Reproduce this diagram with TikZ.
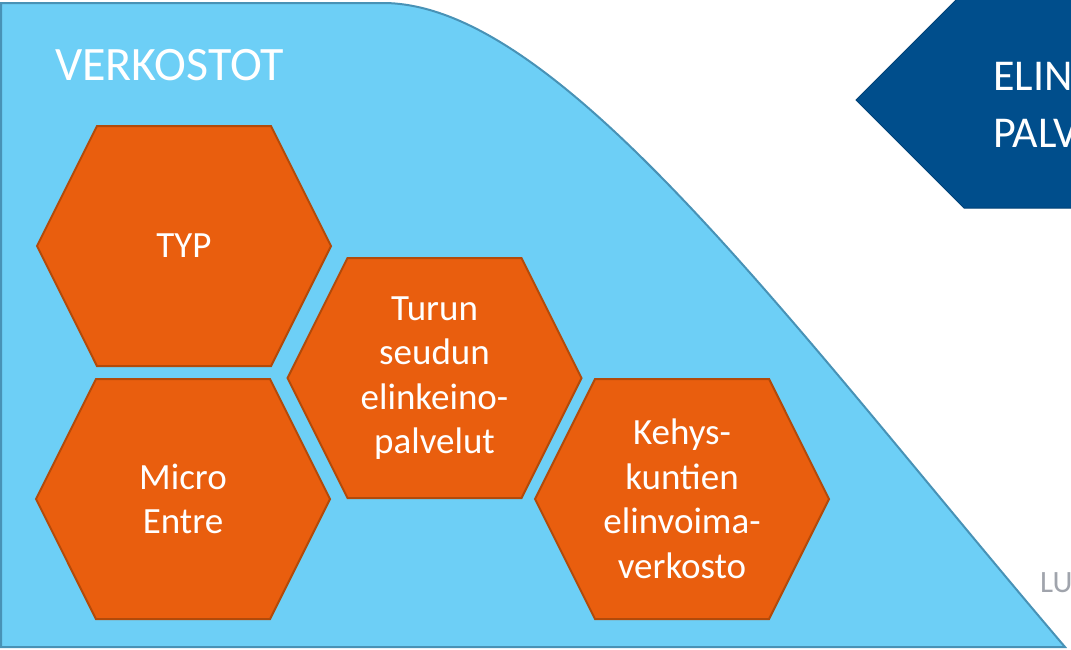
\documentclass[tikz,border=0pt]{standalone}
\usepackage{fontspec}
\setmainfont{Carlito}
\usetikzlibrary{shapes.symbols}
\definecolor{verkkoblue}{RGB}{109,207,246}
\definecolor{verkkoline}{RGB}{72,146,182}
\definecolor{hexorange}{RGB}{233,94,14}
\definecolor{hexline}{RGB}{178,74,10}
\definecolor{elinblue}{RGB}{0,78,140}
\definecolor{lugray}{RGB}{160,164,172}
\begin{document}
\begin{tikzpicture}[x=1pt,y=-1pt,
  hexa/.style={signal,signal to=east and west,signal pointer angle=126.87,fill=hexorange,draw=hexline,line width=2pt,minimum width=294pt,minimum height=240pt,inner sep=0pt,text=white,align=center,font=\fontsize{37}{44.5}\selectfont}]
\useasboundingbox (0,0) rectangle (1071,649);
\clip (0,0) rectangle (1071,649);
\filldraw[fill=verkkoblue,draw=verkkoline,line width=2pt] (1,3) -- (383,3) .. controls (560,3) and (795,330) .. (1065,647) -- (1,647) -- cycle;
\filldraw[fill=elinblue,draw=elinblue!85!black,line width=1pt] (856,100) -- (966,-10) -- (1090,-10) -- (1090,208) -- (964,208) -- cycle;
\node[anchor=west,inner sep=0pt,text=white,align=left,font=\fontsize{44}{57}\selectfont] (elin) at (993,104.5) {ELIN\\PALV};
\node[anchor=base west,inner sep=0pt,text=white,font=\fontsize{48}{57}\selectfont] (verkostot) at (55,80) {VERKOSTOT};
\node[hexa] (typ) at (184,246) {TYP};
\node[hexa] (micro) at (183,499) {Micro\\Entre};
\node[hexa] (turku) at (434.5,378) {Turun\\seudun\\elinkeino-\\palvelut};
\node[hexa] (kehys) at (682,499) {Kehys-\\kuntien\\elinvoima-\\verkosto};
\node[anchor=base west,inner sep=0pt,text=lugray,font=\fontsize{31}{37}\selectfont] (lu) at (1040,592) {LU};
\end{tikzpicture}
\end{document}
